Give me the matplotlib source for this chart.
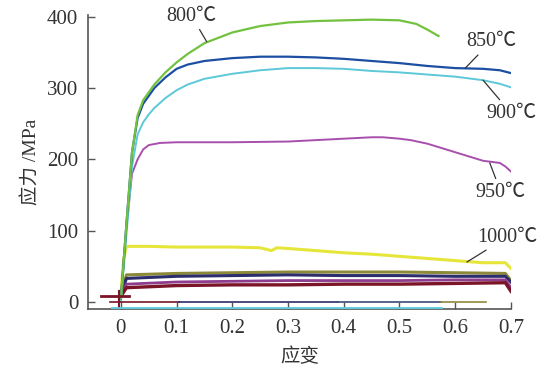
import matplotlib.pyplot as plt

SERIF = ['Liberation Serif', 'Noto Sans CJK SC', 'DejaVu Sans']
plt.rcParams['font.family'] = SERIF

# stress-strain curves, strain / stress (MPa)
s800 = [0, 0.01, 0.02, 0.03, 0.04, 0.06, 0.08, 0.1, 0.12, 0.15, 0.2, 0.25, 0.3, 0.35, 0.4, 0.45, 0.5, 0.53, 0.55, 0.57]
p800 = [5, 110, 210, 262, 283, 305, 322, 336, 348, 363, 378, 387, 392, 394, 395, 396, 395, 390, 382, 373]

s850 = [0, 0.01, 0.02, 0.03, 0.04, 0.06, 0.08, 0.1, 0.12, 0.15, 0.2, 0.25, 0.3, 0.35, 0.4, 0.45, 0.5, 0.55, 0.6, 0.65, 0.68, 0.7]
p850 = [5, 110, 210, 258, 278, 300, 315, 327, 333, 338, 342, 344, 344, 343, 341, 338, 335, 331, 328, 327, 325, 321]

s900 = [0, 0.01, 0.02, 0.03, 0.04, 0.05, 0.06, 0.08, 0.1, 0.12, 0.15, 0.2, 0.25, 0.3, 0.35, 0.4, 0.45, 0.5, 0.55, 0.6, 0.65, 0.68, 0.7]
p900 = [0, 95, 190, 235, 252, 263, 272, 286, 297, 305, 313, 320, 325, 328, 328, 327, 324, 322, 319, 316, 311, 306, 301]

s950 = [0, 0.01, 0.02, 0.03, 0.04, 0.05, 0.07, 0.1, 0.2, 0.3, 0.35, 0.4, 0.45, 0.47, 0.5, 0.52, 0.55, 0.6, 0.65, 0.68, 0.69, 0.7]
p950 = [5, 105, 180, 200, 214, 220, 223, 224, 224, 225, 227, 229, 231, 231, 229, 227, 222, 210, 198, 195, 190, 183]

s1000 = [0, 0.005, 0.01, 0.05, 0.1, 0.2, 0.25, 0.27, 0.28, 0.3, 0.35, 0.4, 0.45, 0.5, 0.55, 0.6, 0.65, 0.69, 0.7]
p1000 = [10, 60, 78, 78, 77, 77, 76, 72, 76, 75, 72, 69, 67, 64, 61, 58, 55, 55, 47]

s_low = [0, 0.01, 0.1, 0.2, 0.3, 0.4, 0.5, 0.6, 0.69, 0.7]
p_olive = [10, 38, 40, 41, 42, 42, 42, 41, 40, 30]
p_navy = [10, 33, 36, 37, 38, 37, 37, 36, 36, 28]
p_purple = [8, 25, 28, 29, 30, 30, 30, 31, 31, 20]
p_red = [8, 20, 23, 24, 24, 25, 25, 26, 27, 15]

# preload / baseline segments
pre_s = [-0.035, 0.015]
pre_p = [8, 8]
base_red = [-0.02, 0.105]
base_navy = [0.105, 0.39]
base_slate = [0.39, 0.575]
base_olive = [0.575, 0.655]
base_cyan = [-0.016, 0.575]

xticks = [0, 0.1, 0.2, 0.3, 0.4, 0.5, 0.6, 0.7]
xticklabels = ['0', '0.1', '0.2', '0.3', '0.4', '0.5', '0.6', '0.7']
yticks = [0, 100, 200, 300, 400]

fig = plt.figure(figsize=(5.45, 3.70), dpi=100)
ax = fig.add_axes([0.1615, 0.165, 0.776, 0.7945])

lw = 1.4
ax.plot(s_low, p_olive, color='#8c8a38', lw=2.2)
ax.plot(s_low, p_navy, color='#2b2d6c', lw=2.2)
ax.plot(s_low, p_purple, color='#8e3c8e', lw=2.0)
ax.plot(s_low, p_red, color='#7a1426', lw=2.4)
ax.plot(s1000, p1000, color='#e6e63a', lw=2.2)
ax.plot(s950, p950, color='#a84fae', lw=lw)
ax.plot(s900, p900, color='#5cc8d8', lw=lw)
ax.plot(s850, p850, color='#1c4fa2', lw=lw + 0.2)
ax.plot(s800, p800, color='#72c240', lw=lw + 0.2)

ax.plot(pre_s, pre_p, color='#7a1426', lw=2)
ax.plot([-0.003, -0.003], [16, -12], color='#7a1426', lw=1.5)
ax.plot(base_red, [0, 0], color='#7a1426', lw=1.2)
ax.plot(base_navy, [0, 0], color='#2b2d6c', lw=1.2)
ax.plot(base_slate, [0, 0], color='#3c4a78', lw=1.2)
ax.plot(base_olive, [0, 0], color='#8c8a38', lw=1.2)
ax.plot(base_cyan, [-8, -8], color='#5cc8d8', lw=2, zorder=3)

ax.set_xlim(-0.059, 0.7)
ax.set_ylim(-9.8, 402.5)
ax.spines['top'].set_visible(False)
ax.spines['right'].set_visible(False)
for sp in ['left', 'bottom']:
    ax.spines[sp].set_color('#555555')
    ax.spines[sp].set_linewidth(1.2)

ax.set_xticks(xticks)
ax.set_xticklabels(xticklabels)
ax.set_yticks(yticks)
ax.tick_params(direction='in', length=5, width=1, color='#555555',
               labelsize=15, labelcolor='#333333', pad=7)

ax.set_xlabel('应变', fontsize=14, color='#333333', labelpad=7)
ax.set_ylabel('应力 /MPa', fontsize=14, color='#333333', labelpad=5)

labels = [('800℃', (0.154, 365), (0.127, 401)),
          ('850℃', (0.618, 328), (0.664, 365)),
          ('900℃', (0.650, 311), (0.700, 265)),
          ('950℃', (0.662, 195), (0.682, 154)),
          ('1000℃', (0.621, 56), (0.693, 91))]
for txt, xy, xyt in labels:
    ax.annotate(txt, xy=xy, xytext=xyt, ha='center', va='center', fontsize=14.5,
                color='#333333', annotation_clip=False,
                arrowprops=dict(arrowstyle='-', color='#333333', lw=0.9,
                                shrinkA=1, shrinkB=0))

plt.savefig('out.png', dpi=100)
